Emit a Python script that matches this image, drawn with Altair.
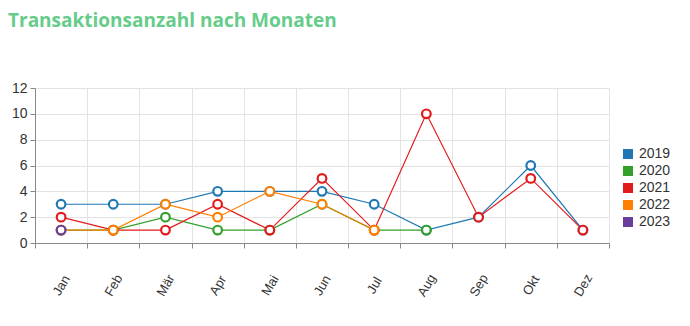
import altair as alt
import pandas as pd

months = ["Jan", "Feb", "Mär", "Apr", "Mai", "Jun", "Jul", "Aug", "Sep", "Okt", "Dez"]
years = ["2019", "2020", "2021", "2022", "2023"]
colors = ["#1f78b4", "#33a02c", "#e31a1c", "#ff7f00", "#6a3d9a"]

v2019 = [3, 3, 3, 4, 4, 4, 3, 1, 2, 6, 1]
v2020 = [1, 1, 2, 1, 1, 3, 1, 1, None, None, None]
v2021 = [2, 1, 1, 3, 1, 5, 1, 10, 2, 5, 1]
v2022 = [1, 1, 3, 2, 4, 3, 1, None, None, None, None]
v2023 = [1, None, None, None, None, None, None, None, None, None, None]

series = [v2019, v2020, v2021, v2022, v2023]
rows = []
for y, vals in zip(years, series):
    for m, v in zip(months, vals):
        if v is not None:
            rows.append({"Monat": m, "Jahr": y, "Anzahl": v})
df = pd.DataFrame(rows)

x = alt.X("Monat:N", sort=months, title=None,
          scale=alt.Scale(domain=months, paddingInner=0, paddingOuter=0),
          axis=alt.Axis(grid=True, tickBand="extent", labelAngle=-60, labelAlign="center",
                        labelBaseline="middle", labelPadding=37, tickSize=5,
                        domainColor="#888888", tickColor="#888888",
                        gridColor="#e3e3e3", labelFont="Liberation Sans",
                        labelFontSize=13, labelColor="#333333"))
y = alt.Y("Anzahl:Q", title=None,
          scale=alt.Scale(domain=[0, 12], nice=False),
          axis=alt.Axis(values=[0, 2, 4, 6, 8, 10, 12], tickSize=5, labelPadding=3,
                        domainColor="#888888", tickColor="#888888",
                        gridColor="#e3e3e3", labelFont="Liberation Sans",
                        labelFontSize=14, labelColor="#333333"))
cscale = alt.Scale(domain=years, range=colors)
color_leg = alt.Color("Jahr:N", scale=cscale,
                      legend=alt.Legend(title=None, orient="none", legendX=586, legendY=59,
                                        symbolType="square", symbolSize=100,
                                        symbolStrokeWidth=0, symbolOpacity=1,
                                        labelFont="Liberation Sans", labelFontSize=14,
                                        labelColor="#333333", rowPadding=3, labelOffset=4))
color_nol = alt.Color("Jahr:N", scale=cscale, legend=None)

legend_layer = alt.Chart(df).mark_square(size=100, filled=True, opacity=0).encode(
    x=x, y=y, color=color_leg)
lines = alt.Chart(df).mark_line(strokeWidth=1.2).encode(
    x=x, y=y, color=color_nol, order=alt.Order("Jahr:N"))
points = alt.Chart(df).mark_point(filled=False, fill="white", fillOpacity=1, size=75,
                                  strokeWidth=2.2, opacity=1).encode(
    x=x, y=y, color=color_nol, order=alt.Order("Jahr:N"))

chart = (legend_layer + lines + points).properties(
    width=574, height=155,
    title=alt.TitleParams("Transaktionsanzahl nach Monaten", anchor="start",
                          frame="group", dx=-27, offset=50, font="Open Sans",
                          fontSize=19, fontWeight="bold", color="#66cc8a"),
    padding={"left": 35, "top": 88, "right": 81, "bottom": 83},
    autosize=alt.AutoSizeParams(type="none"),
).configure_view(stroke=None)

chart.save("out.html", embed_options={"renderer": "svg", "actions": False})
